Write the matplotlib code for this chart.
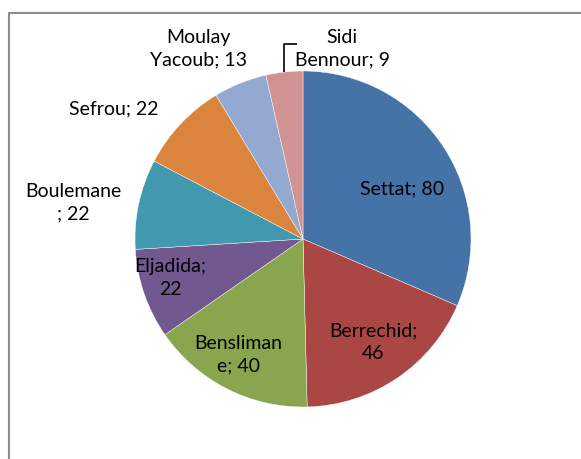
import matplotlib
matplotlib.use("Agg")
import matplotlib.pyplot as plt
import numpy as np
from matplotlib.patches import Rectangle

categories = ["Settat", "Berrechid", "Bensliman\ne", "Eljadida", "Boulemane\n", "Sefrou", "Moulay\nYacoub", "Sidi\nBennour"]
values = [80, 46, 40, 22, 22, 22, 13, 9]
colors = ["#4572A7", "#AA4643", "#89A54E", "#71588F", "#4198AF", "#DB843D", "#93A9CF", "#D19392"]

# label layout (pixel offsets from pie centre) and formats
label_fmt = ["{n}; {v}", "{n};\n{v}", "{n}; {v}", "{n};\n{v}", "{n}; {v}", "{n}; {v}", "{n}; {v}", "{n}; {v}"]
label_xy = [(99, 50), (70, -103), (-65, -116), (-133, -39), (-230, 36), (-189, 130), (-105, 190), (39, 190)]

W, H = 581, 459
cx, cy = 303, 459 - 239
R = 168

plt.rcParams['font.family'] = ['Lato', 'DejaVu Sans']
fig = plt.figure(figsize=(W / 100, H / 100), dpi=100)
ax = fig.add_axes([0, 0, 1, 1])

wedges, _ = ax.pie(values, colors=colors, startangle=90, counterclock=False,
                   radius=R, center=(0, 0), frame=True,
                   wedgeprops=dict(edgecolor='white', linewidth=0.3))
ax.set_xlim(-cx, W - cx)
ax.set_ylim(-cy, H - cy)
ax.set_aspect('equal')
ax.axis('off')

for name, v, fmt, (lx, ly) in zip(categories, values, label_fmt, label_xy):
    txt = fmt.format(n=name, v=v)
    ax.text(lx, ly, txt, ha='center', va='center', multialignment='center',
            fontsize=14, color='black', linespacing=1.38)

# leader line for the last (small) slice
w = wedges[-1]
mid = np.deg2rad((w.theta1 + w.theta2) / 2)
px, py = R * np.cos(mid), R * np.sin(mid)
ax.plot([px, px, px + 13], [py, py + 28, py + 28], color='black', lw=1.2, solid_capstyle='butt')

# chart area border
top = 1 - 13 / H
fig.patches.append(Rectangle((9 / W, -0.2), 1.2, top + 0.2, transform=fig.transFigure,
                             fill=False, edgecolor='#8c8c8c', linewidth=1.5))

fig.savefig("out.png", dpi=100)
